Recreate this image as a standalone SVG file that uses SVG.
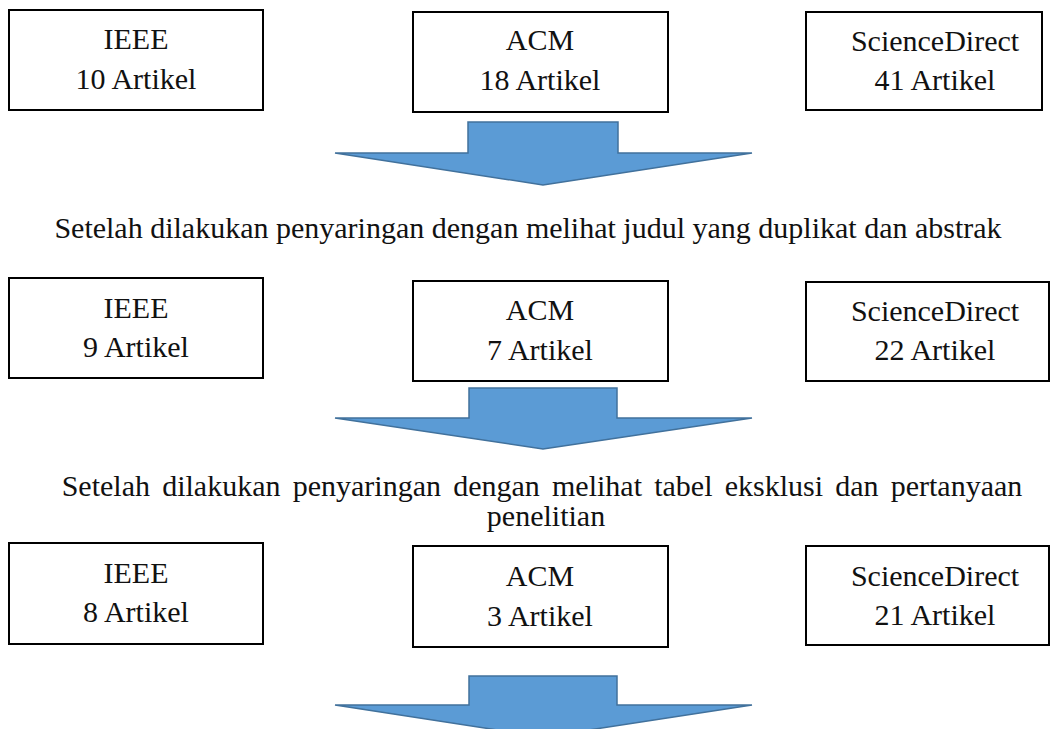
<svg xmlns="http://www.w3.org/2000/svg" width="1051" height="729" viewBox="0 0 1051 729">
<style>
.box{fill:#fff;stroke:#000;stroke-width:2}
.t{font-family:"Liberation Serif","Times New Roman",serif;font-size:30px;fill:#111;text-anchor:middle}
.arrow{fill:#5B9BD5;stroke:#41719C;stroke-width:1.5;stroke-linejoin:miter}
</style>
<rect width="1051" height="729" fill="#fff"/>
<g id="ieee1"><rect class="box" x="9" y="10" width="254" height="100"/><text class="t" x="136" y="49">IEEE</text><text class="t" x="136" y="89">10 Artikel</text></g>
<g id="acm1"><rect class="box" x="413" y="12" width="255" height="100"/><text class="t" x="540" y="50">ACM</text><text class="t" x="540" y="90">18 Artikel</text></g>
<g id="sd1"><rect class="box" x="806" y="12" width="236" height="98"/><text class="t" x="935" y="51">ScienceDirect</text><text class="t" x="935" y="90">41 Artikel</text></g>
<g id="caption1"><text class="t" x="528" y="238">Setelah dilakukan penyaringan dengan melihat judul yang duplikat dan abstrak</text></g>
<g id="ieee2"><rect class="box" x="9" y="278" width="254" height="100"/><text class="t" x="136" y="318">IEEE</text><text class="t" x="136" y="357">9 Artikel</text></g>
<g id="acm2"><rect class="box" x="413" y="281" width="255" height="100"/><text class="t" x="540" y="320">ACM</text><text class="t" x="540" y="360">7 Artikel</text></g>
<g id="sd2"><rect class="box" x="806" y="282" width="243" height="99"/><text class="t" x="935" y="321">ScienceDirect</text><text class="t" x="935" y="360">22 Artikel</text></g>
<g id="caption2"><text class="t" x="542" y="496" word-spacing="4.7">Setelah dilakukan penyaringan dengan melihat tabel eksklusi dan pertanyaan</text><text class="t" x="546" y="526">penelitian</text></g>
<g id="ieee3"><rect class="box" x="9" y="543" width="254" height="101"/><text class="t" x="136" y="583">IEEE</text><text class="t" x="136" y="622">8 Artikel</text></g>
<g id="acm3"><rect class="box" x="413" y="546" width="255" height="101"/><text class="t" x="540" y="586">ACM</text><text class="t" x="540" y="626">3 Artikel</text></g>
<g id="sd3"><rect class="box" x="806" y="546" width="243" height="99"/><text class="t" x="935" y="586">ScienceDirect</text><text class="t" x="935" y="625">21 Artikel</text></g>
<g id="connectors">
<path class="arrow" d="M468,122 H618 V153 H752 L543,185 L335,153 H468 Z"/>
<path class="arrow" d="M469,388 H617 V418 H752 L543,449 L335,418 H469 Z"/>
<path class="arrow" d="M469,676 H617 V705 H752 L543,737 L335,705 H469 Z"/>
</g>
</svg>
